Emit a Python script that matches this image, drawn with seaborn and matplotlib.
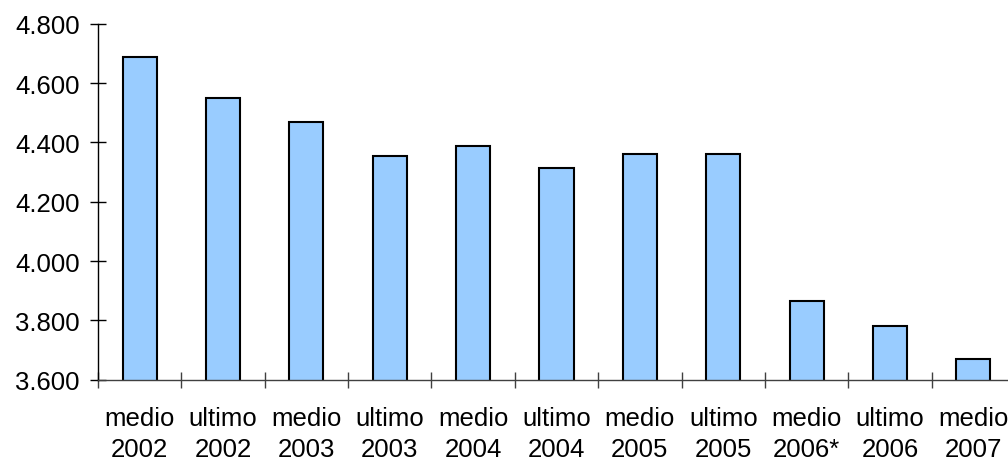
import matplotlib
matplotlib.use("Agg")
import matplotlib.pyplot as plt
from matplotlib.ticker import FixedLocator, FuncFormatter
import seaborn as sns
import pandas as pd

periods = ["medio", "ultimo", "medio", "ultimo", "medio", "ultimo",
           "medio", "ultimo", "medio", "ultimo", "medio"]
years = ["2002", "2002", "2003", "2003", "2004", "2004",
         "2005", "2005", "2006*", "2006", "2007"]
values = [4690, 4550, 4470, 4355, 4388, 4313, 4360, 4360, 3866, 3780, 3670]

labels = [f"{p}\n{y}" for p, y in zip(periods, years)]
df = pd.DataFrame({"label": labels, "value": values})

sns.set_theme(style="white")
plt.rcParams["font.family"] = ["Liberation Sans", "DejaVu Sans"]
plt.rcParams["text.color"] = "black"
plt.rcParams["xtick.color"] = "black"
plt.rcParams["ytick.color"] = "black"

fig = plt.figure(figsize=(10.08, 4.6), dpi=100)
ax = fig.add_axes([0.0972, 0.1728, 0.9098, 0.7729])

sns.barplot(data=df, x="label", y="value", ax=ax, color="#99CCFF",
            saturation=1, width=0.41, edgecolor="black", linewidth=1.5)

ax.set_ylim(3600, 4800)
ax.set_xlim(-0.5, len(labels) - 0.5)
ax.set_xlabel("")
ax.set_ylabel("")

ax.yaxis.set_major_locator(FixedLocator([3600 + 200 * i for i in range(7)]))
ax.yaxis.set_major_formatter(
    FuncFormatter(lambda v, _: f"{int(v):,}".replace(",", ".")))

# category boundaries carry the x tick marks; labels sit at bar centres
ax.xaxis.set_minor_locator(FixedLocator([i - 0.5 for i in range(len(labels) + 1)]))
ax.tick_params(axis="x", which="major", length=0, pad=19, labelsize=18.5,
               labelcolor="black")
ax.tick_params(axis="x", which="minor", direction="inout", length=12,
               width=1, color="#404040", bottom=True)
ax.tick_params(axis="y", direction="inout", length=12, width=1,
               color="black", pad=7, labelsize=18.5, labelcolor="black",
               left=True)

for side in ("top", "right"):
    ax.spines[side].set_visible(False)
ax.spines["left"].set_color("black")
ax.spines["left"].set_linewidth(1)
ax.spines["bottom"].set_color("#404040")
ax.spines["bottom"].set_linewidth(1)

for t in ax.get_xticklabels():
    t.set_linespacing(1.35)

fig.savefig("out.png", dpi=100)
